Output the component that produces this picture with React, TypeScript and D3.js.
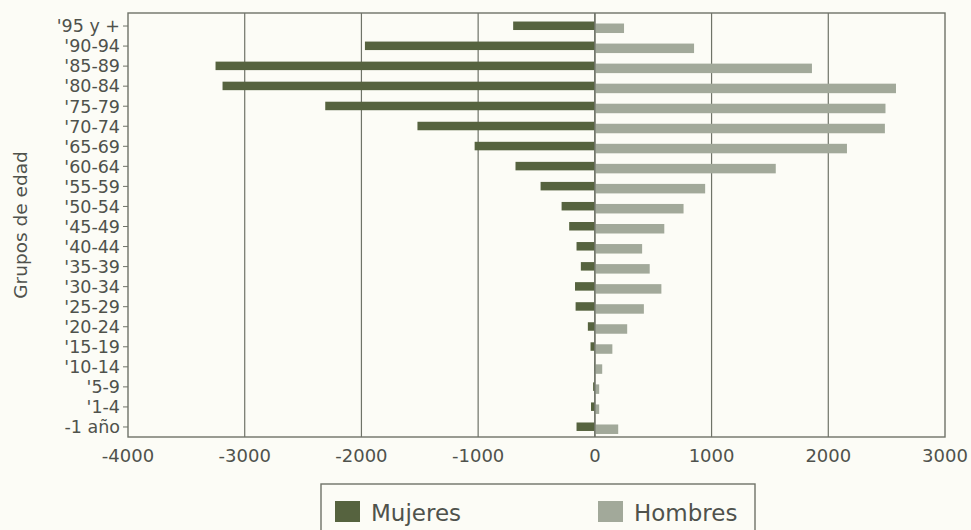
import React from "react";
import * as d3 from "d3";

const categories = ["'95 y +", "'90-94", "'85-89", "'80-84", "'75-79", "'70-74", "'65-69", "'60-64", "'55-59", "'50-54", "'45-49", "'40-44", "'35-39", "'30-34", "'25-29", "'20-24", "'15-19", "'10-14", "'5-9", "'1-4", "-1 año"];
const mujeres = [-700, -1970, -3250, -3190, -2310, -1520, -1030, -680, -465, -285, -220, -157, -120, -170, -165, -60, -37, -5, -15, -33, -157];
const hombres = [250, 850, 1860, 2580, 2490, 2485, 2160, 1550, 945, 760, 595, 405, 470, 570, 420, 277, 150, 63, 37, 37, 200];
const xTicks = [-4000, -3000, -2000, -1000, 0, 1000, 2000, 3000];
const seriesNames = ["Mujeres", "Hombres"];

const W = 971, H = 530;
const left = 128, right = 945, top = 13, bottom = 437;
const DARK = "#56633f";
const LIGHT = "#a2a99a";
const GRID = "#6f7368";
const TEXT = "#4f524c";
const FONT = "'DejaVu Sans', sans-serif";

export default function App() {
  const x = d3.scaleLinear().domain([-4000, 3000]).range([left, right]);
  const y = d3.scaleBand<string>().domain(categories).range([top + 3, bottom]);
  const bw = y.bandwidth();
  return (
    <svg width={W} height={H} style={{ position: "absolute", left: 0, top: 0 }} fontFamily={FONT}>
      <rect x={0} y={0} width={W} height={H} fill="#fcfcf6" />
      {xTicks.slice(1, -1).map((t) => (
        <line key={t} x1={x(t)} x2={x(t)} y1={top} y2={bottom} stroke={GRID} strokeWidth={1.2} />
      ))}
      {categories.map((c, i) => {
        const cy = (y(c) as number) + bw / 2;
        return (
          <g key={c}>
            <rect x={x(mujeres[i])} y={cy - 4.5} width={x(0) - x(mujeres[i])} height={8.5} fill={DARK} />
            <rect x={x(0)} y={cy - 2.5} width={x(hombres[i]) - x(0)} height={9.5} fill={LIGHT} />
            <line x1={left - 5} x2={left} y1={cy} y2={cy} stroke={GRID} strokeWidth={1} />
            <text x={left - 8} y={cy} dy="0.36em" textAnchor="end" fontSize={17.5} fill={TEXT}>{c}</text>
          </g>
        );
      })}
      <line x1={x(0)} x2={x(0)} y1={top} y2={bottom} stroke={GRID} strokeWidth={1.4} />
      <rect x={left} y={top} width={right - left} height={bottom - top} fill="none" stroke={GRID} strokeWidth={1.4} />
      {xTicks.map((t) => (
        <text key={t} x={x(t)} y={462} textAnchor="middle" fontSize={18} fill={TEXT}>{t}</text>
      ))}
      <text transform={`translate(27,${(top + bottom) / 2}) rotate(-90)`} textAnchor="middle" fontSize={18.5} fill={TEXT}>Grupos de edad</text>
      <rect x={321} y={484} width={434} height={60} fill="none" stroke={GRID} strokeWidth={1.4} />
      {seriesNames.map((s, i) => {
        const lx = i === 0 ? 335 : 598;
        return (
          <g key={s}>
            <rect x={lx} y={501} width={25} height={21} fill={i === 0 ? DARK : LIGHT} />
            <text x={lx + 36} y={521} fontSize={23} fill={TEXT}>{s}</text>
          </g>
        );
      })}
    </svg>
  );
}
